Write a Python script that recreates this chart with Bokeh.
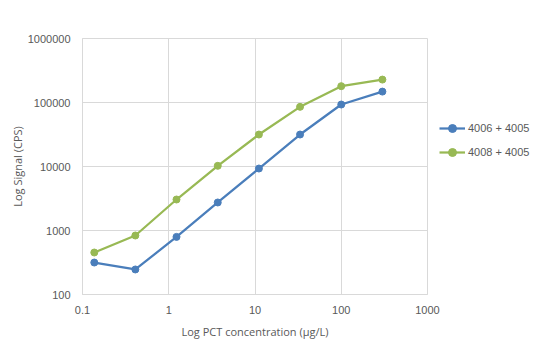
from bokeh.plotting import figure
from bokeh.models import FixedTicker, Legend, LegendItem
from bokeh.embed import file_html
from bokeh.resources import INLINE

conc = [0.137, 0.41, 1.23, 3.7, 11.1, 33.3, 100, 300]
sig_4006 = [316, 246, 795, 2740, 9300, 31600, 93000, 148000]
sig_4008 = [453, 835, 3050, 10250, 31600, 85500, 180000, 228000]
series_names = ["4006 + 4005", "4008 + 4005"]
x_ticks = [0.1, 1, 10, 100, 1000]
x_tick_labels = ["0.1", "1", "10", "100", "1000"]
y_ticks = [100, 1000, 10000, 100000, 1000000]
y_tick_labels = ["100", "1000", "10000", "100000", "1000000"]

BLUE = "#4a7ebb"
GREEN = "#98b954"
GRID = "#d9d9d9"
TXT = "#595959"
FONT = "Liberation Sans"

p = figure(frame_width=345, frame_height=256, x_axis_type="log", y_axis_type="log",
           x_range=(0.1, 1000), y_range=(100, 1000000),
           output_backend="svg", toolbar_location=None,
           min_border_left=82, min_border_right=117, min_border_top=38, min_border_bottom=58)
p.background_fill_color = "white"
p.border_fill_color = "white"
p.outline_line_color = GRID
p.outline_line_width = 1

for ax, ticks, labels in ((p.xaxis[0], x_ticks, x_tick_labels), (p.yaxis[0], y_ticks, y_tick_labels)):
    ax.ticker = FixedTicker(ticks=ticks, minor_ticks=[])
    ax.major_label_overrides = {t: l for t, l in zip(ticks, labels)}
    ax.axis_line_color = GRID
    ax.major_tick_line_color = None
    ax.minor_tick_line_color = None
    ax.major_label_text_color = TXT
    ax.major_label_text_font = FONT
    ax.major_label_text_font_size = "11px"
    ax.axis_label_text_color = TXT
    ax.axis_label_text_font = "Open Sans"
    ax.axis_label_text_font_size = "11px"
    ax.axis_label_text_font_style = "normal"

p.xaxis.axis_label = "Log PCT concentration (µg/L)"
p.yaxis.axis_label = "Log Signal (CPS)"
p.xaxis.major_label_standoff = 5
p.yaxis.major_label_standoff = 6
p.xaxis.axis_label_standoff = 7
p.yaxis.axis_label_standoff = 0

p.xgrid.grid_line_color = GRID
p.ygrid.grid_line_color = GRID

items = []
for ys, color, name in ((sig_4006, BLUE, series_names[0]), (sig_4008, GREEN, series_names[1])):
    l = p.line(conc, ys, line_color=color, line_width=2.25)
    c = p.scatter(conc, ys, size=7, fill_color=color, line_color=color)
    items.append(LegendItem(label=name, renderers=[l, c]))

legend = Legend(items=items, location=(12, 132), border_line_color=None,
                background_fill_alpha=0, label_text_color=TXT,
                label_text_font=FONT, label_text_font_size="11px",
                glyph_width=26, glyph_height=20, label_height=20, spacing=4,
                label_standoff=3, padding=0, margin=0)
p.add_layout(legend, "right")

open("out.html", "w").write(file_html(p, INLINE))
